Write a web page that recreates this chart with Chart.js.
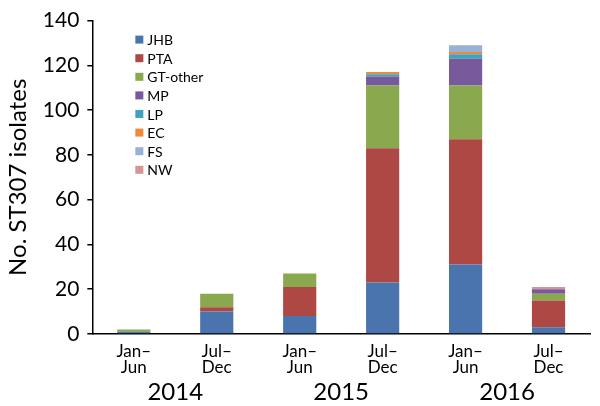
<!DOCTYPE html>
<html>
<head>
<meta charset="utf-8">
<script src="https://cdn.jsdelivr.net/npm/chart.js@4"></script>
<style>
  body { margin: 0; background: #fff; }
  canvas { display: block; }
</style>
</head>
<body>
<canvas id="canvas" width="600" height="406"></canvas>
<script>

// half-year periods and the years under them
var periods = [['Jan–', 'Jun'], ['Jul–', 'Dec'], ['Jan–', 'Jun'], ['Jul–', 'Dec'], ['Jan–', 'Jun'], ['Jul–', 'Dec']];
var years = ['2014', '2015', '2016'];

// isolates per province / region
var jhb     = [1, 10, 8, 23, 31, 3];
var pta     = [0, 2, 13, 60, 56, 12];
var gtOther = [1, 6, 6, 28, 24, 3];
var mp      = [0, 0, 0, 4, 12, 2];
var lp      = [0, 0, 0, 1, 2, 0];
var ec      = [0, 0, 0, 1, 1, 0];
var fs      = [0, 0, 0, 0, 3, 0];
var nw      = [0, 0, 0, 0, 0, 1];

var yMax = 140;
var yStep = 20;

var FONT = 'Lato, "Open Sans", sans-serif';

function ds(label, data, color){
    return { label: label, data: data, backgroundColor: color, borderWidth: 0 };
}

// legend drawn inside the plot, top-left, one row per series
var insideLegend = {
    id: 'insideLegend',
    afterDraw: function(chart){
        var ctx = chart.ctx;
        var area = chart.chartArea;
        var x = area.left + 43;
        var y = area.top + 19;
        ctx.save();
        ctx.font = '14px ' + FONT;
        ctx.textBaseline = 'middle';
        chart.data.datasets.forEach(function(d, i){
            var cy = y + i * 18.6;
            ctx.fillStyle = d.backgroundColor;
            ctx.fillRect(x, cy - 4, 8, 8);
            ctx.fillStyle = '#000';
            ctx.fillText(d.label, x + 12, cy + 1);
        });
        ctx.restore();
    }
};

function create_graph(){

    new Chart(document.getElementById("canvas"), {
        type: 'bar',
        data: {
            labels: periods,
            datasets: [
                ds('JHB', jhb, '#4a74ad'),
                ds('PTA', pta, '#ad4845'),
                ds('GT-other', gtOther, '#8aa84e'),
                ds('MP', mp, '#77599c'),
                ds('LP', lp, '#3ea3bd'),
                ds('EC', ec, '#ee8a3c'),
                ds('FS', fs, '#98b1d6'),
                ds('NW', nw, '#d69492')
            ]
        },
        options: {
            responsive: false,
            animation: false,
            barPercentage: 0.4,
            categoryPercentage: 1,
            layout: { padding: { top: 5, right: 10, left: 2, bottom: 0 } },
            plugins: {
                legend: { display: false },
                tooltip: { enabled: false }
            },
            scales: {
                x: {
                    stacked: true,
                    weight: 0,
                    grid: { display: false, drawTicks: false, tickLength: 0 },
                    border: { color: '#000', width: 1.5 },
                    ticks: { color: '#000', padding: 10, font: { family: FONT, size: 17, lineHeight: 0.92 } },
                    afterFit: function(scale){ scale.height = 44; }
                },
                x2: {
                    type: 'category',
                    position: 'bottom',
                    labels: years,
                    weight: 1,
                    grid: { display: false, drawTicks: false, tickLength: 0 },
                    border: { display: false },
                    ticks: { color: '#000', padding: 2, font: { family: FONT, size: 24, lineHeight: 1 } },
                    afterFit: function(scale){ scale.height = 28; }
                },
                y: {
                    stacked: true,
                    min: 0,
                    max: yMax,
                    ticks: { stepSize: yStep, color: '#000', padding: 8, font: { family: FONT, size: 21 } },
                    grid: { drawOnChartArea: false, drawTicks: true, tickLength: 5, color: '#000', lineWidth: 1.5 },
                    border: { color: '#000', width: 1.5 },
                    title: { display: true, text: 'No. ST307 isolates', color: '#000', padding: 2, font: { family: FONT, size: 24 } }
                }
            }
        },
        plugins: [insideLegend]
    });

}

create_graph();
</script>
</body>
</html>
